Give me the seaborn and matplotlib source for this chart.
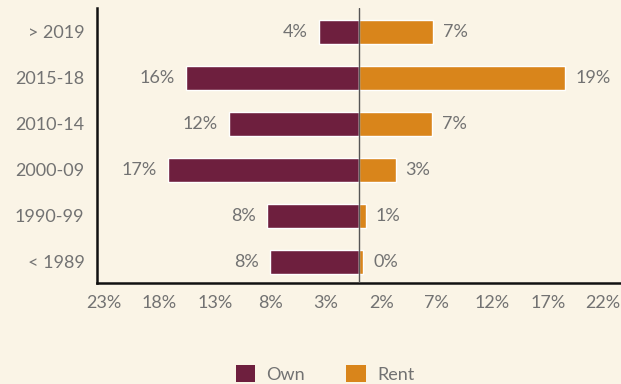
import matplotlib
matplotlib.use("Agg")
import matplotlib.pyplot as plt
import seaborn as sns
import pandas as pd
import numpy as np
from matplotlib.patches import Patch

categories = ["> 2019", "2015-18", "2010-14", "2000-09", "1990-99", "< 1989"]
own = [3.6, 15.6, 11.7, 17.2, 8.3, 8.0]
rent = [6.7, 18.6, 6.6, 3.3, 0.6, 0.4]
tick_values = [-23, -18, -13, -8, -3, 2, 7, 12, 17, 22]
series_names = ["Own", "Rent"]

BG = "#FAF4E6"
OWN_C = "#6E1F3E"
RENT_C = "#D9851B"
TXT = "#727272"

sns.set_theme(style="white")
plt.rcParams["font.family"] = ["Lato", "DejaVu Sans"]

fig = plt.figure(figsize=(6.21, 3.84), dpi=100, facecolor=BG)
ax = fig.add_axes([97/621, 1-283/384, 1-97/621, (283-8)/384])
ax.set_facecolor(BG)

df = pd.DataFrame({"cat": categories, "own": [-v for v in own], "rent": rent})
sns.barplot(data=df, x="own", y="cat", orient="h", color=OWN_C, width=0.52,
            saturation=1, ax=ax)
sns.barplot(data=df, x="rent", y="cat", orient="h", color=RENT_C, width=0.52,
            saturation=1, ax=ax)

cont_own = ax.containers[0]
cont_rent = ax.containers[1]
ax.bar_label(cont_own, labels=[f"{round(v)}%" for v in own], padding=8,
             color=TXT, fontsize=13)
ax.bar_label(cont_rent, labels=[f"{round(v)}%" for v in rent], padding=7,
             color=TXT, fontsize=13)

ax.axvline(0, color="#555555", lw=1.0, zorder=3)

ax.set_xlim(-23.6, 23.6)
ax.set_ylim(5.46, -0.52)
ax.set_xticks(tick_values)
ax.set_xticklabels([f"{abs(t)}%" for t in tick_values])
ax.set_xlabel("")
ax.set_ylabel("")
ax.tick_params(axis="both", length=0, labelsize=13, labelcolor=TXT)
ax.tick_params(axis="x", pad=9)
ax.tick_params(axis="y", pad=9)

for s in ["top", "right"]:
    ax.spines[s].set_visible(False)
for s in ["left", "bottom"]:
    ax.spines[s].set_color("#111111")
    ax.spines[s].set_linewidth(1.8)

handles = [Patch(facecolor=OWN_C, edgecolor="none"),
           Patch(facecolor=RENT_C, edgecolor="none")]
leg = fig.legend(handles, series_names, loc="center", ncol=2,
                 bbox_to_anchor=(325/621, 1-374/384), frameon=False,
                 handlelength=1.1, handleheight=1.1, columnspacing=2.3,
                 handletextpad=0.6, fontsize=13)
for t in leg.get_texts():
    t.set_color(TXT)

fig.savefig("out.png", dpi=100, facecolor=BG)
